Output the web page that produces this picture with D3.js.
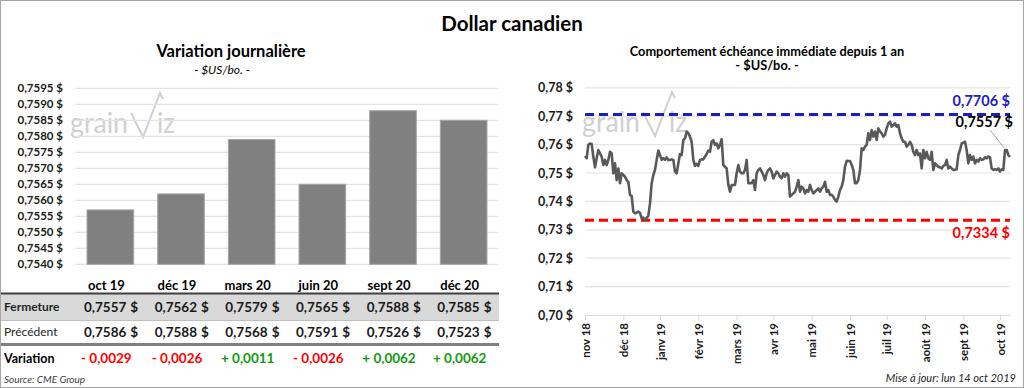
<!DOCTYPE html>
<html><head><meta charset="utf-8">
<script src="https://cdn.jsdelivr.net/npm/d3@7"></script>
<style>
html,body{margin:0;padding:0;background:#fff;}
svg{display:block;font-family:Lato,"Open Sans",sans-serif;}
</style></head>
<body>
<svg id="c" width="1024" height="388"></svg>
<script>
// ---------- DATA ----------
const contracts = ["oct 19","déc 19","mars 20","juin 20","sept 20","déc 20"];
const fermeture = [0.7557,0.7562,0.7579,0.7565,0.7588,0.7585];
const precedent = [0.7586,0.7588,0.7568,0.7591,0.7526,0.7523];
const variation = [-0.0029,-0.0026,0.0011,-0.0026,0.0062,0.0062];
const leftTicks = [0.7540,0.7545,0.7550,0.7555,0.7560,0.7565,0.7570,0.7575,0.7580,0.7585,0.7590,0.7595];

const monthLabels = ["nov 18","déc 18","janv 19","févr 19","mars 19","avr 19","mai 19","juin 19","juil 19","août 19","sept 19","oct 19"];
const monthStartIdx = [0,23,45,68,91,113,136,159,181,204,227,249];
const rightTicks = [0.70,0.71,0.72,0.73,0.74,0.75,0.76,0.77,0.78];
const high1y = 0.7706, low1y = 0.7334, lastClose = 0.7557;
const closes = [
0.7560,0.7552,0.7599,0.7604,0.7602,0.7558,0.7520,0.7552,0.7581,0.7569,
0.7558,0.7528,0.7546,0.7528,0.7546,0.7575,0.7569,0.7499,0.7534,0.7475,
0.7516,0.7464,0.7499,0.7493,0.7487,0.7475,0.7469,0.7423,0.7419,0.7364,
0.7358,0.7360,0.7364,0.7360,0.7340,0.7343,0.7334,0.7343,0.7349,0.7393,
0.7464,0.7493,0.7511,0.7546,0.7579,0.7563,0.7546,0.7552,0.7546,0.7555,
0.7546,0.7546,0.7548,0.7546,0.7505,0.7499,0.7534,0.7567,0.7563,0.7616,
0.7622,0.7646,0.7640,0.7628,0.7610,0.7546,0.7525,0.7532,0.7525,0.7546,
0.7548,0.7548,0.7558,0.7567,0.7579,0.7575,0.7610,0.7616,0.7599,0.7604,
0.7587,0.7599,
0.7619,0.7528,0.7522,0.7516,0.7458,0.7434,0.7458,0.7458,0.7458,0.7499,
0.7528,0.7505,0.7499,0.7499,0.7511,0.7546,0.7464,0.7464,0.7464,0.7475,
0.7440,0.7499,0.7511,0.7516,0.7505,0.7493,0.7475,0.7499,0.7511,0.7516,
0.7505,0.7481,0.7493,0.7505,0.7499,0.7487,0.7481,0.7499,0.7487,0.7499,
0.7493,0.7417,0.7423,0.7428,0.7434,0.7452,0.7475,0.7434,0.7452,0.7446,
0.7428,0.7440,0.7434,0.7458,0.7440,0.7428,0.7434,0.7440,0.7446,0.7434,
0.7446,0.7452,0.7469,0.7434,0.7440,0.7423,0.7423,0.7417,0.7405,0.7399,
0.7417,0.7440,0.7452,0.7475,0.7522,0.7543,0.7542,0.7542,0.7528,0.7511,
0.7464,0.7464,0.7475,0.7511,
0.7587,0.7581,0.7593,0.7599,0.7640,0.7616,0.7651,0.7628,0.7646,0.7616,
0.7657,0.7646,0.7640,0.7628,0.7634,0.7657,0.7675,0.7681,0.7663,0.7669,
0.7675,0.7663,0.7669,0.7640,0.7622,0.7610,0.7610,0.7593,0.7599,0.7610,
0.7599,0.7575,0.7563,0.7581,0.7563,0.7569,0.7516,0.7581,0.7552,0.7575,
0.7552,0.7546,0.7575,0.7511,0.7534,0.7528,0.7522,0.7520,0.7516,0.7525,
0.7528,0.7546,0.7516,0.7522,0.7516,0.7511,0.7511,0.7513,0.7563,0.7581,
0.7604,0.7607,0.7610,0.7581,0.7534,0.7563,0.7546,0.7558,0.7534,0.7546,
0.7540,0.7552,0.7546,0.7548,0.7555,0.7552,0.7558,0.7555,0.7516,0.7511,
0.7513,0.7511,0.7516,0.7505,0.7513,0.7511,0.7581,0.7581,0.7563,0.7557
];

// ---------- HELPERS ----------
const loc = d3.formatLocale({decimal:",", thousands:" ", grouping:[3], currency:["","$"]});
const f4 = loc.format(".4f"), f2 = loc.format(".2f");
const svg = d3.select("#c");

// frame
svg.append("rect").attr("x",0.5).attr("y",0.5).attr("width",1023).attr("height",387)
  .attr("fill","#fff").attr("stroke","#a6a6a6");

svg.append("text").attr("x",512).attr("y",31).attr("text-anchor","middle")
  .attr("font-size",20.5).attr("font-weight",700).attr("fill","#000").text("Dollar canadien");

function watermark(x, y){
  const g = svg.append("g").attr("transform",`translate(${x},${y})`).attr("fill","#d0d0d0");
  g.append("text").attr("x",0).attr("y",10).attr("font-size",28).attr("font-weight",400)
    .attr("textLength",58).attr("lengthAdjust","spacingAndGlyphs").text("grain");
  g.append("path").attr("d","M61,-10 L73,14 L90,-30 L93,-24").attr("fill","none")
    .attr("stroke","#d0d0d0").attr("stroke-width",2);
  g.append("text").attr("x",87).attr("y",10).attr("font-size",28).attr("font-weight",400)
    .attr("textLength",18).attr("lengthAdjust","spacingAndGlyphs").text("iz");
}

// ---------- LEFT: bar chart ----------
svg.append("text").attr("x",231).attr("y",57).attr("text-anchor","middle")
  .attr("font-size",16.5).attr("font-weight",700).text("Variation journalière");
svg.append("text").attr("x",222).attr("y",74).attr("text-anchor","middle")
  .attr("font-size",12).attr("font-style","italic").text("- $US/bo. -");

const xb = d3.scaleBand().domain(contracts).range([75,499]).paddingInner(0.34).paddingOuter(0.17);
const yb = d3.scaleLinear().domain([0.7540,0.7595]).range([264.3,88.3]);

watermark(70,123);

const gl = svg.append("g");
gl.selectAll("line").data(leftTicks).join("line")
  .attr("x1",75).attr("x2",498).attr("y1",d=>yb(d)).attr("y2",d=>yb(d))
  .attr("stroke","#e3e3e3").attr("stroke-width",1.2);
const ayl = svg.append("g").attr("transform","translate(63,0)")
  .call(d3.axisLeft(yb).tickValues(leftTicks).tickSize(0).tickPadding(0).tickFormat(d=>f4(d)+" $"));
ayl.select(".domain").remove();
ayl.selectAll("text").attr("font-size",11.5).attr("font-weight",700).attr("fill","#1a1a1a")
  .attr("font-family","Lato,sans-serif");

svg.append("g").selectAll("rect").data(contracts).join("rect")
  .attr("x",d=>xb(d)).attr("width",xb.bandwidth())
  .attr("y",(d,i)=>yb(fermeture[i])).attr("height",(d,i)=>yb(0.7540)-yb(fermeture[i]))
  .attr("fill","#808080").attr("stroke","#a6a6a6").attr("stroke-width",1);

// table
const cx = d => xb(d)+xb.bandwidth()/2;
svg.append("g").selectAll("text").data(contracts).join("text")
  .attr("x",d=>cx(d)-4).attr("y",289.5).attr("text-anchor","middle")
  .attr("font-size",13).attr("font-weight",700).text(d=>d);
svg.append("rect").attr("x",1).attr("y",294).attr("width",498).attr("height",26).attr("fill","#d9d9d9");
svg.append("line").attr("x1",1).attr("x2",499).attr("y1",293.5).attr("y2",293.5)
  .attr("stroke","#3f3f3f").attr("stroke-width",2);
svg.append("line").attr("x1",1).attr("x2",499).attr("y1",320.5).attr("y2",320.5)
  .attr("stroke","#bfbfbf").attr("stroke-width",1);
svg.append("line").attr("x1",1).attr("x2",499).attr("y1",344.5).attr("y2",344.5)
  .attr("stroke","#808080").attr("stroke-width",3);

svg.append("text").attr("x",4).attr("y",311).attr("font-size",12).attr("font-weight",700)
  .attr("fill","#262626").text("Fermeture");
svg.append("text").attr("x",4).attr("y",336).attr("font-size",12).attr("fill","#262626").text("Précédent");
svg.append("text").attr("x",4).attr("y",362.5).attr("font-size",12.5).attr("font-weight",700)
  .attr("fill","#000").text("Variation");

function valueRow(vals, y){
  const g = svg.append("g");
  g.selectAll("text.n").data(contracts).join("text").attr("class","n")
    .attr("x",d=>cx(d)+16).attr("y",y).attr("text-anchor","end")
    .attr("font-size",13.5).attr("font-weight",700).attr("fill","#1a1a1a").text((d,i)=>f4(vals[i]));
  g.selectAll("text.s").data(contracts).join("text").attr("class","s")
    .attr("x",d=>cx(d)+20).attr("y",y)
    .attr("font-size",13.5).attr("font-weight",700).attr("fill","#1a1a1a").text("$");
}
valueRow(fermeture, 311.5);
valueRow(precedent, 336.5);
svg.append("g").selectAll("text").data(contracts).join("text")
  .attr("x",d=>cx(d)-4).attr("y",363).attr("text-anchor","middle")
  .attr("font-size",13.5).attr("font-weight",700)
  .attr("fill",(d,i)=>variation[i]<0?"#ff0000":"#109a10")
  .text((d,i)=>(variation[i]<0?"- ":"+ ")+f4(Math.abs(variation[i])));

svg.append("text").attr("x",4).attr("y",382.5).attr("font-size",10).attr("font-style","italic")
  .attr("fill","#404040").text("Source: CME Group");

// ---------- RIGHT: line chart ----------
svg.append("text").attr("x",767).attr("y",56).attr("text-anchor","middle")
  .attr("font-size",12.8).attr("font-weight",700).text("Comportement échéance immédiate depuis 1 an");
svg.append("text").attr("x",767).attr("y",70).attr("text-anchor","middle")
  .attr("font-size",12.8).attr("font-weight",700).text("- $US/bo. -");

const xl = d3.scaleLinear().domain([0, closes.length-1]).range([585,1010]);
const yl = d3.scaleLinear().domain([0.70,0.78]).range([315,87.8]);

svg.append("g").selectAll("line").data(rightTicks.slice(1)).join("line")
  .attr("x1",585).attr("x2",1010).attr("y1",d=>yl(d)).attr("y2",d=>yl(d))
  .attr("stroke","#e3e3e3").attr("stroke-width",1.2);

watermark(582,122);

const ayr = svg.append("g").attr("transform","translate(573,0)")
  .call(d3.axisLeft(yl).tickValues(rightTicks).tickSize(0).tickPadding(0).tickFormat(d=>f2(d)+" $"));
ayr.select(".domain").remove();
ayr.selectAll("text").attr("font-size",12.5).attr("font-weight",700).attr("fill","#1a1a1a")
  .attr("font-family","Lato,sans-serif");

const axb = svg.append("g").attr("transform","translate(0,315)")
  .call(d3.axisBottom(xl).tickValues(monthStartIdx).tickSize(5).tickPadding(0)
    .tickFormat((d,i)=>monthLabels[i]));
axb.select(".domain").attr("stroke","#d9d9d9").attr("d","M585,0.5H1010");
axb.selectAll(".tick line").attr("stroke","#d9d9d9");
axb.selectAll(".tick text").attr("transform","rotate(-90)").attr("text-anchor","end")
  .attr("x",-8).attr("y",0).attr("dy","0.35em")
  .attr("font-size",11.5).attr("font-weight",700).attr("fill","#1a1a1a").attr("font-family","Lato,sans-serif");

// reference lines
svg.append("line").attr("x1",585).attr("x2",1010).attr("y1",yl(high1y)).attr("y2",yl(high1y))
  .attr("stroke","#1c1cbf").attr("stroke-width",3).attr("stroke-dasharray","9,5");
svg.append("line").attr("x1",585).attr("x2",1010).attr("y1",yl(low1y)).attr("y2",yl(low1y))
  .attr("stroke","#ff0000").attr("stroke-width",3).attr("stroke-dasharray","9,5");

svg.append("path").datum(closes)
  .attr("d",d3.line().x((d,i)=>xl(i)).y(d=>yl(d)))
  .attr("fill","none").attr("stroke","#595959").attr("stroke-width",2.6).attr("stroke-linejoin","round");

svg.append("text").attr("x",1010).attr("y",yl(high1y)-8).attr("text-anchor","end")
  .attr("font-size",14.5).attr("font-weight",700).attr("fill","#2020c0").text(f4(high1y)+"  $");
svg.append("text").attr("x",1010).attr("y",yl(low1y)+18).attr("text-anchor","end")
  .attr("font-size",14.5).attr("font-weight",700).attr("fill","#ff0000").text(f4(low1y)+"  $");
const lx = xl(closes.length-1), ly = yl(lastClose);
svg.append("line").attr("x1",lx-20).attr("y1",ly-27).attr("x2",lx-6).attr("y2",ly-9)
  .attr("stroke","#a6a6a6").attr("stroke-width",1);
svg.append("text").attr("x",lx+3).attr("y",ly-30).attr("text-anchor","end")
  .attr("font-size",14.5).attr("font-weight",700).attr("fill","#000").text(f4(lastClose)+" $");

svg.append("text").attr("x",1016).attr("y",382).attr("text-anchor","end")
  .attr("font-size",11).attr("font-style","italic").attr("fill","#262626").text("Mise à jour: lun 14 oct 2019");
</script>
</body></html>
